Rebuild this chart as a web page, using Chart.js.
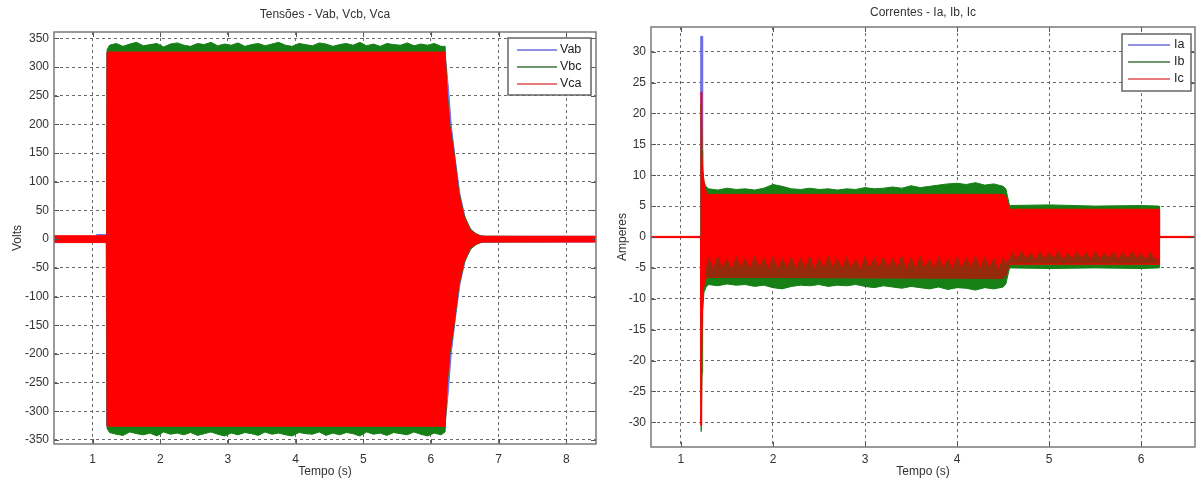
<!DOCTYPE html>
<html><head><meta charset="utf-8">
<script src="https://cdn.jsdelivr.net/npm/chart.js@4.4.1/dist/chart.umd.min.js"></script>
<style>
html,body{margin:0;padding:0;background:#fff;}
#wrap{position:relative;width:1198px;height:481px;background:#fff;}
.c{position:absolute;top:0;}
</style></head><body>
<div id="wrap">
<canvas id="cv" class="c" style="left:0" width="600" height="481"></canvas>
<canvas id="ci" class="c" style="left:600px" width="598" height="481"></canvas>
</div>
<script>
// ---------------- Left chart: Tensões ----------------
const voltageNames = ['Vab', 'Vbc', 'Vca'];
const vTickValues = [-350,-300,-250,-200,-150,-100,-50,0,50,100,150,200,250,300,350];
const vTickLabels = ['-350','-300','-250','-200','-150','-100','-50','0','50','100','150','200','250','300','350'];
const vTimeTicks = [1,2,3,4,5,6,7,8];
const vTimeLabels = ['1','2','3','4','5','6','7','8'];

const vabTime  = [0.43, 1.05, 1.06, 1.20, 1.21, 1.213, 6.20, 6.23, 6.26, 6.30, 6.36, 6.43, 6.51, 6.60, 6.70, 6.80, 8.44];
const vabUpper = [4, 4, 8, 8, 4, 325, 325, 300, 262, 200, 140, 78, 36, 15, 7, 5, 5];
const vabLower = [-4, -4, -4, -4, -4, -325, -325, -300, -262, -200, -140, -78, -36, -15, -7, -5, -5];

const vbcTime = [0.43, 1.208, 1.214,
  1.25,1.35,1.45,1.55,1.65,1.75,1.85,1.95,2.05,2.15,2.25,2.35,2.45,2.55,2.65,2.75,2.85,2.95,3.05,3.15,3.25,3.35,3.45,3.55,3.65,
  3.75,3.85,3.95,4.05,4.15,4.25,4.35,4.45,4.55,4.65,4.75,4.85,4.95,5.05,5.15,5.25,5.35,5.45,5.55,5.65,5.75,5.85,5.95,6.05,6.15,
  6.21, 6.24, 6.28, 6.34, 6.41, 6.49, 6.58, 6.66, 6.75, 8.44];
const vbcUpper = [4, 4, 330,
  338,341,336,340,343,337,339,341,335,340,342,338,336,341,339,343,337,340,338,342,336,339,341,337,340,
  343,338,336,341,339,337,342,340,336,339,341,338,343,337,340,336,341,339,338,342,337,340,338,341,336,
  336, 256, 200, 153, 84, 42, 18, 10, 5, 4];
const vbcLower = [-4, -4, -330,
  -337,-340,-342,-336,-339,-341,-338,-343,-336,-340,-338,-341,-337,-342,-339,-336,-340,-343,-338,-341,-337,-339,-342,-336,-340,
  -338,-341,-343,-337,-339,-340,-336,-342,-338,-341,-337,-339,-343,-336,-340,-338,-342,-337,-339,-341,-336,-340,-343,-338,-341,
  -336, -256, -200, -153, -84, -42, -18, -10, -5, -4];

const vcaTime  = [0.43, 1.208, 1.214, 6.21, 6.24, 6.28, 6.34, 6.41, 6.49, 6.58, 6.66, 6.75, 8.44];
const vcaUpper = [6, 6, 326, 326, 250, 195, 149, 80, 39, 16, 9, 5, 5];
const vcaLower = [-6, -6, -326, -326, -250, -195, -149, -80, -39, -16, -9, -5, -5];

// ---------------- Right chart: Correntes ----------------
const currentNames = ['Ia', 'Ib', 'Ic'];
const iTickValues = [-30,-25,-20,-15,-10,-5,0,5,10,15,20,25,30];
const iTickLabels = ['-30','-25','-20','-15','-10','-5','0','5','10','15','20','25','30'];
const iTimeTicks = [1,2,3,4,5,6];
const iTimeLabels = ['1','2','3','4','5','6'];

const iaTime  = [0.675, 1.213, 1.215, 1.232, 1.236, 1.26, 4.53, 4.57, 6.195, 6.2, 6.585];
const iaUpper = [0, 0, 32.5, 32.5, 8, 6.6, 6.4, 4.3, 4.3, 0, 0];
const iaLower = [0, 0, -14, -14, -8, -6.4, -6.3, -4.7, -4.7, 0, 0];

const ibTime = [0.675, 1.216, 1.220, 1.226, 1.230, 1.236, 1.25, 1.27,
  1.3,1.4,1.5,1.6,1.7,1.8,1.9,2.0,2.1,2.2,2.3,2.4,2.5,2.6,2.7,2.8,2.9,3.0,3.1,3.2,3.3,3.4,3.5,3.6,3.7,3.8,3.9,4.0,4.1,4.2,4.3,4.4,4.5,
  4.53, 4.57, 5.0, 5.5, 6.0, 6.195, 6.2, 6.585];
const ibUpper = [0, 0, 21.5, 21.5, 14, 11, 9, 8.2,
  7.8,7.6,7.9,7.7,7.8,7.6,7.9,8.5,8.2,7.8,7.7,7.9,7.7,7.8,7.6,7.8,7.7,8.0,7.8,7.9,8.1,7.9,8.3,8.0,8.2,8.4,8.6,8.7,8.5,8.8,8.4,8.6,8.2,
  7.8, 5.1, 5.2, 5.0, 5.1, 5.0, 0, 0];
const ibLower = [0, 0, -31.5, -31.5, -22, -12, -9, -8.2,
  -7.7,-7.9,-7.6,-7.8,-7.7,-8.0,-7.8,-8.2,-8.4,-8.0,-7.8,-7.9,-7.7,-8.0,-7.8,-7.9,-7.7,-8.0,-8.2,-7.9,-8.1,-8.3,-8.0,-8.2,-8.4,-8.1,-8.5,-8.2,-8.3,-8.6,-8.2,-8.4,-8.1,
  -7.6, -5.0, -5.1, -5.0, -5.1, -5.0, 0, 0];

// negative-side Ib trace overlapping Ic (dark band)
const ibInnerTopTime = [1.27,
  1.30,1.35,1.40,1.45,1.50,1.55,1.60,1.65,1.70,1.75,1.80,1.85,1.90,1.95,2.00,2.05,2.10,2.15,2.20,2.25,2.30,2.35,2.40,2.45,2.50,2.55,
  2.60,2.65,2.70,2.75,2.80,2.85,2.90,2.95,3.00,3.05,3.10,3.15,3.20,3.25,3.30,3.35,3.40,3.45,3.50,3.55,3.60,3.65,3.70,3.75,3.80,3.85,
  3.90,3.95,4.00,4.05,4.10,4.15,4.20,4.25,4.30,4.35,4.40,4.45,4.50,
  4.53, 4.58,
  4.60,4.65,4.70,4.75,4.80,4.85,4.90,4.95,5.00,5.05,5.10,5.15,5.20,5.25,5.30,5.35,5.40,5.45,5.50,5.55,5.60,5.65,5.70,5.75,5.80,5.85,
  5.90,5.95,6.00,6.05,6.10,6.15,
  6.19];
const ibInnerTop = [-5.0,
  -3.2,-5.0,-3.0,-4.9,-3.4,-5.1,-3.1,-4.8,-3.3,-5.0,
  -2.9,-4.9,-3.2,-5.1,-3.0,-5.0,-3.4,-4.8,-3.1,-5.0,
  -3.3,-4.9,-3.0,-5.1,-3.2,-5.0,-2.9,-4.8,-3.3,-5.0,
  -3.1,-4.9,-3.4,-5.1,-3.0,-5.0,-3.2,-4.8,-3.1,-5.0,
  -3.3,-4.9,-2.9,-5.1,-3.2,-5.0,-3.0,-4.8,-3.4,-5.0,
  -3.1,-4.9,-3.3,-5.1,-3.0,-5.0,-3.2,-4.8,-2.9,-5.0,
  -3.1,-4.9,-3.3,-5.1,-3.2,
  -4.2, -3.3,
  -2.4,-3.5,-2.2,-3.4,-2.5,-3.6,-2.3,-3.5,-2.4,-3.4,
  -2.2,-3.6,-2.5,-3.5,-2.3,-3.4,-2.4,-3.6,-2.2,-3.5,
  -2.5,-3.4,-2.3,-3.6,-2.4,-3.5,-2.2,-3.4,-2.5,-3.6,
  -2.3,-3.5,
  -3.5];
const ibInnerBaseTime = [1.27, 4.50, 4.54, 4.58, 6.19];
const ibInnerBase = [-6.6, -6.8, -6.2, -4.3, -4.3];

const icTime  = [0.675, 1.216, 1.218, 1.222, 1.226, 1.232, 1.24, 1.255, 1.27, 1.29, 4.50, 4.53, 4.57, 6.195, 6.2, 6.585];
const icUpper = [0.1, 0.1, 23.5, 23.5, 14.5, 12, 10.5, 8.5, 7.5, 6.9, 6.9, 6.6, 4.5, 4.5, 0.1, 0.1];
const icLower = [-0.1, -0.1, -30.5, -30.5, -20, -13, -9, -7.5, -6.8, -6.5, -6.5, -6.2, -4.4, -4.4, -0.1, -0.1];

// ---------------- helpers ----------------
const FONT = '"Liberation Sans", Arial, sans-serif';
const FS = 12;
const BLUE = '#6f6fe8', GREEN = '#168016', RED = '#ff0000', DARK = '#952a0c';

function pts(t, v) { return t.map((x, i) => ({x: x, y: v[i]})); }
function band(name, tUp, up, tLo, lo, color, order, legendColor, bw) {
  const common = {borderColor: color, backgroundColor: color, borderWidth: bw, pointRadius: 0, tension: 0, order: order};
  return [
    Object.assign({label: name, data: pts(tUp, up), fill: '+1', legendColor: legendColor}, common),
    Object.assign({label: name, data: pts(tLo, lo), fill: false}, common)
  ];
}

const framePlugin = {
  id: 'matFrame',
  afterDatasetsDraw(chart) {
    const {ctx, chartArea: a, scales} = chart;
    const L = 5;
    ctx.save();
    ctx.strokeStyle = '#555'; ctx.lineWidth = 1;
    ctx.beginPath();
    scales.x.ticks.forEach(t => {
      const p = Math.round(scales.x.getPixelForValue(t.value)) + 0.5;
      ctx.moveTo(p, a.bottom); ctx.lineTo(p, a.bottom - L);
      ctx.moveTo(p, a.top); ctx.lineTo(p, a.top + L);
    });
    scales.y.ticks.forEach(t => {
      const p = Math.round(scales.y.getPixelForValue(t.value)) + 0.5;
      ctx.moveTo(a.left, p); ctx.lineTo(a.left + L, p);
      ctx.moveTo(a.right, p); ctx.lineTo(a.right - L, p);
    });
    ctx.stroke();
    ctx.strokeStyle = '#7a7a7a'; ctx.lineWidth = 1.5;
    ctx.strokeRect(a.left, a.top, a.right - a.left, a.bottom - a.top);
    ctx.restore();
  }
};

const legendPlugin = {
  id: 'boxLegend',
  afterDraw(chart, args, o) {
    const ctx = chart.ctx;
    const items = chart.data.datasets.filter(d => d.legendColor);
    ctx.save();
    ctx.fillStyle = '#fff';
    ctx.fillRect(o.left, o.top, o.width, o.height);
    ctx.strokeStyle = '#666'; ctx.lineWidth = 1.5;
    ctx.strokeRect(o.left, o.top, o.width, o.height);
    ctx.font = '12.5px ' + FONT;
    ctx.textBaseline = 'middle';
    items.forEach((d, i) => {
      const yy = o.top + o.firstRow + i * o.rowGap;
      ctx.strokeStyle = d.legendColor; ctx.lineWidth = 2;
      ctx.beginPath(); ctx.moveTo(o.left + o.lineStart, yy); ctx.lineTo(o.left + o.lineEnd, yy); ctx.stroke();
      ctx.fillStyle = '#222';
      ctx.fillText(d.label, o.left + o.textX, yy);
    });
    ctx.restore();
  }
};

function axisOpts(min, max, tickVals, tickLabels, fitFn, title, titlePad, tickPad) {
  return {
    type: 'linear', min: min, max: max,
    afterBuildTicks: s => { s.ticks = tickVals.map(v => ({value: v})); },
    afterFit: fitFn,
    grid: {color: '#6a6a6a', lineWidth: 1, drawTicks: false},
    border: {display: false, dash: [3, 3]},
    ticks: {font: {family: FONT, size: FS}, color: '#333', padding: tickPad, maxRotation: 0, autoSkip: false,
            callback: (v, i) => tickLabels[i]},
    title: {display: true, text: title, font: {family: FONT, size: FS}, color: '#333', padding: titlePad}
  };
}

function makeChart(id, datasets, cfg) {
  return new Chart(document.getElementById(id), {
    type: 'line',
    data: {datasets: datasets},
    options: {
      responsive: false, animation: false, devicePixelRatio: 1, events: [],
      layout: {padding: cfg.padding},
      plugins: {
        legend: {display: false}, tooltip: {enabled: false},
        title: {display: true, text: cfg.title, fullSize: false, color: '#333',
                font: {family: FONT, size: FS, weight: 'normal'}, padding: cfg.titlePad},
        boxLegend: cfg.legend
      },
      scales: {
        x: axisOpts(cfg.xmin, cfg.xmax, cfg.xTicks, cfg.xLabels, s => { s.height = cfg.xHeight; }, 'Tempo (s)', {top: 0, bottom: 2}, cfg.xTickPad),
        y: axisOpts(cfg.ymin, cfg.ymax, cfg.yTicks, cfg.yLabels, s => { s.width = cfg.yWidth; }, cfg.yTitle, {top: cfg.yTitlePad, bottom: 0}, 5)
      }
    },
    plugins: [framePlugin, legendPlugin]
  });
}

// ---------------- build ----------------
const vDatasets = [].concat(
  band(voltageNames[0], vabTime, vabUpper, vabTime, vabLower, BLUE, 3, '#9090e0', 1),
  band(voltageNames[1], vbcTime, vbcUpper, vbcTime, vbcLower, GREEN, 2, '#6e976e', 1),
  band(voltageNames[2], vcaTime, vcaUpper, vcaTime, vcaLower, RED, 1, '#e87b7b', 1)
);
makeChart('cv', vDatasets, {
  title: 'Tensões - Vab, Vcb, Vca', titlePad: {top: 7, bottom: 10.6},
  padding: {left: 0, right: 4, top: 0, bottom: 0},
  xmin: 0.43, xmax: 8.44, xTicks: vTimeTicks, xLabels: vTimeLabels, xHeight: 37, xTickPad: 8,
  ymin: -357, ymax: 361, yTicks: vTickValues, yLabels: vTickLabels, yWidth: 54,
  yTitle: 'Volts', yTitlePad: 10,
  legend: {left: 508, top: 38, width: 83, height: 57, firstRow: 12, rowGap: 17, lineStart: 9, lineEnd: 49, textX: 52}
});

const iDatasets = [].concat(
  band(currentNames[0], iaTime, iaUpper, iaTime, iaLower, BLUE, 3, '#9090e0', 1),
  band(currentNames[1], ibTime, ibUpper, ibTime, ibLower, GREEN, 2, '#6e976e', 1),
  band(currentNames[2], icTime, icUpper, icTime, icLower, RED, 1, '#e87b7b', 1),
  band('Ib*', ibInnerTopTime, ibInnerTop, ibInnerBaseTime, ibInnerBase, DARK, 0, null, 0)
);
makeChart('ci', iDatasets, {
  title: 'Correntes - Ia, Ib, Ic', titlePad: {top: 5, bottom: 7.6},
  padding: {left: 0, right: 3, top: 0, bottom: 0},
  xmin: 0.675, xmax: 6.585, xTicks: iTimeTicks, xLabels: iTimeLabels, xHeight: 34, xTickPad: 5,
  ymin: -34, ymax: 34, yTicks: iTickValues, yLabels: iTickLabels, yWidth: 51,
  yTitle: 'Amperes', yTitlePad: 15,
  legend: {left: 522, top: 34, width: 69, height: 57, firstRow: 11, rowGap: 17, lineStart: 6, lineEnd: 48, textX: 52}
});
</script>
</body></html>
